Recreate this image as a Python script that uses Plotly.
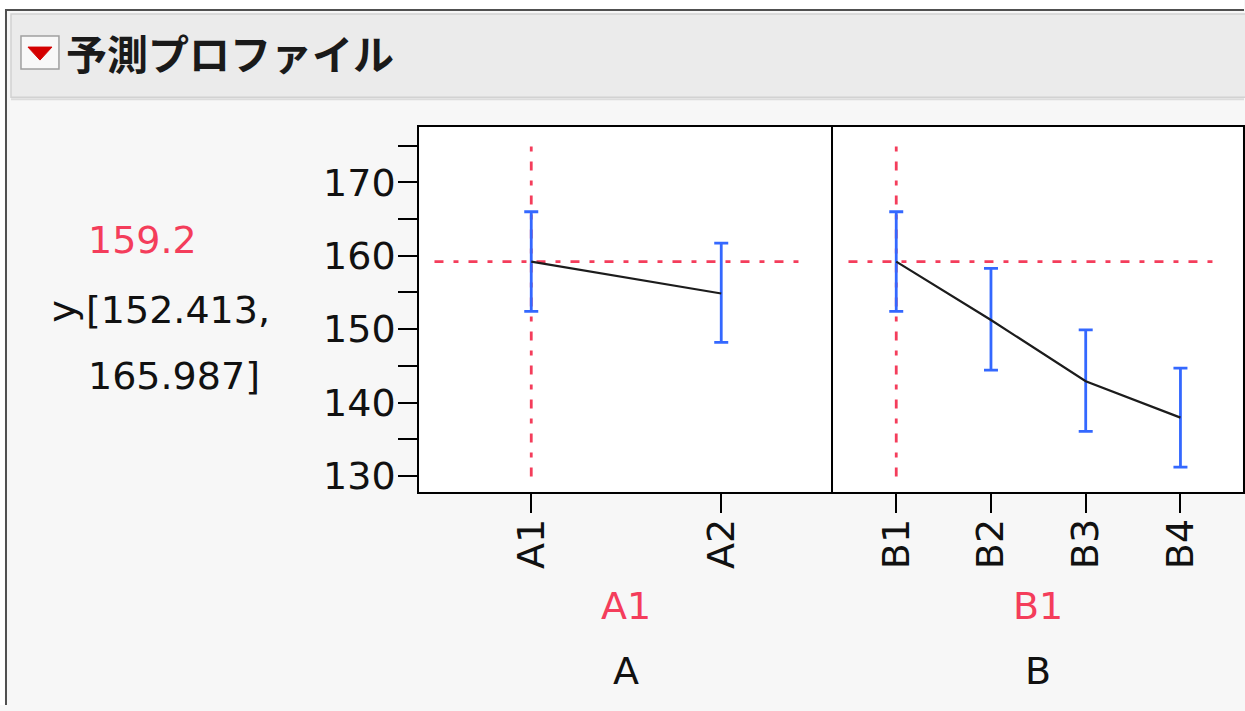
import plotly.graph_objects as go

W, H = 1245, 711

# ---- data ----
response = "y"
A_levels = ["A1", "A2"]
A_mean = [159.2, 154.85]
A_lower = [152.413, 148.2]
A_upper = [165.987, 161.7]

B_levels = ["B1", "B2", "B3", "B4"]
B_mean = [159.2, 151.25, 142.9, 137.95]
B_lower = [152.413, 144.42, 136.08, 131.21]
B_upper = [165.987, 158.27, 149.89, 144.69]

y_ticks = [130, 140, 150, 160, 170]
current_A = 0
current_B = 0
current_value = 159.2
current_ci = [152.413, 165.987]
title = "予測プロファイル"

# ---- style ----
RED = "#f43d5b"
BLUE = "#3468ff"
FONT = "DejaVu Sans"
JFONT = "Noto Sans CJK JP"
FS = 38
K = 1.01


def px(x):
    return x / W


def py(y):
    return 1 - (y * K) / H


fig = go.Figure()

for lv, mean, lo, up, xa, ya in [
    (A_levels, A_mean, A_lower, A_upper, "x", "y"),
    (B_levels, B_mean, B_lower, B_upper, "x2", "y2"),
]:
    fig.add_trace(go.Scatter(
        x=list(range(len(lv))), y=mean, mode="lines",
        line=dict(color="#1c1c1c", width=2.2),
        error_y=dict(type="data", symmetric=False,
                     array=[u - m for u, m in zip(up, mean)],
                     arrayminus=[m - l for m, l in zip(mean, lo)],
                     color=BLUE, thickness=2.8, width=7),
        xaxis=xa, yaxis=ya, showlegend=False, hoverinfo="skip"))

dash = "9px,10px,5px,10px"
shapes = []
# page frame (white margins outside the grey panel)
shapes.append(dict(type="rect", xref="paper", yref="paper", x0=0, x1=1, y0=py(10), y1=1,
                   fillcolor="white", line=dict(width=0), layer="below"))
shapes.append(dict(type="rect", xref="paper", yref="paper", x0=0, x1=px(6), y0=0, y1=1,
                   fillcolor="white", line=dict(width=0), layer="below"))
shapes.append(dict(type="rect", xref="paper", yref="paper", x0=px(11), x1=1.01, y0=py(97), y1=py(14),
                   fillcolor="#ebebeb", line=dict(color="#d2d2d2", width=1.5), layer="below"))
shapes.append(dict(type="line", xref="paper", yref="paper", x0=px(11), x1=1, y0=py(99), y1=py(99),
                   line=dict(color="#dcdcdc", width=2), layer="below"))
shapes.append(dict(type="line", xref="paper", yref="paper", x0=px(6), x1=px(6), y0=0, y1=py(9),
                   line=dict(color="#505050", width=2)))
shapes.append(dict(type="line", xref="paper", yref="paper", x0=px(5), x1=1, y0=py(10), y1=py(10),
                   line=dict(color="#505050", width=2)))
# red button
shapes.append(dict(type="rect", xref="paper", yref="paper", x0=px(21), x1=px(59), y0=py(69), y1=py(36),
                   fillcolor="#f8f8f8", line=dict(color="#a0a0a0", width=1.5)))
shapes.append(dict(type="path", xref="paper", yref="paper",
                   path=f"M {px(28)} {py(47)} L {px(52)} {py(47)} L {px(40)} {py(60)} Z",
                   fillcolor="#d40000", line=dict(color="#d40000", width=1)))

# crosshair dashed lines
for xa, ya, cur in [("x", "y", current_A), ("x2", "y2", current_B)]:
    shapes.append(dict(type="line", xref=f"{xa} domain", yref=ya, x0=0.037, x1=0.935,
                       y0=current_value, y1=current_value, layer="below",
                       line=dict(color=RED, width=2.8, dash=dash)))
    shapes.append(dict(type="line", xref=xa, yref=f"{ya} domain", x0=cur, x1=cur,
                       y0=0.042, y1=0.95, layer="below",
                       line=dict(color=RED, width=2.8, dash=dash)))

annotations = [
    dict(text=f"<b>{title}</b>", x=px(64), y=py(52), xref="paper", yref="paper",
         xanchor="left", yanchor="middle", showarrow=False,
         font=dict(family=JFONT, size=41, color="#1a1a1a")),
    dict(text=f"{current_value}", x=px(86), y=py(240), xref="paper", yref="paper",
         xanchor="left", yanchor="middle", showarrow=False,
         font=dict(family=FONT, size=FS, color=RED)),
    dict(text=response, x=px(63), y=py(310), xref="paper", yref="paper",
         xanchor="center", yanchor="middle", showarrow=False, textangle=-90,
         font=dict(family=FONT, size=FS, color="#111")),
    dict(text=f"[{current_ci[0]:.3f},", x=px(84), y=py(310), xref="paper", yref="paper",
         xanchor="left", yanchor="middle", showarrow=False,
         font=dict(family=FONT, size=FS, color="#111")),
    dict(text=f"{current_ci[1]:.3f}]", x=px(86), y=py(375), xref="paper", yref="paper",
         xanchor="left", yanchor="middle", showarrow=False,
         font=dict(family=FONT, size=FS, color="#111")),
    dict(text=A_levels[current_A], x=0.5, y=py(605), xref="x domain", yref="paper",
         xanchor="center", yanchor="middle", showarrow=False,
         font=dict(family=FONT, size=FS, color=RED)),
    dict(text="A", x=0.5, y=py(670), xref="x domain", yref="paper",
         xanchor="center", yanchor="middle", showarrow=False,
         font=dict(family=FONT, size=FS, color="#111")),
    dict(text=B_levels[current_B], x=0.5, y=py(605), xref="x2 domain", yref="paper",
         xanchor="center", yanchor="middle", showarrow=False,
         font=dict(family=FONT, size=FS, color=RED)),
    dict(text="B", x=0.5, y=py(670), xref="x2 domain", yref="paper",
         xanchor="center", yanchor="middle", showarrow=False,
         font=dict(family=FONT, size=FS, color="#111")),
]

axis_common = dict(showline=True, linecolor="black", linewidth=2,
                   showgrid=False, zeroline=False,
                   tickfont=dict(family=FONT, size=FS, color="#111"))
ydom = [py(491), py(127)]
yrange = [127.86, 177.5]

fig.update_layout(
    width=W, height=H, margin=dict(l=0, r=0, t=0, b=0),
    paper_bgcolor="#f7f7f7", plot_bgcolor="white",
    xaxis=dict(domain=[px(419.5), px(834)], range=[-0.59, 1.59], anchor="y", mirror=True,
               tickvals=list(range(len(A_levels))), ticktext=A_levels, tickangle=-90,
               ticklabelstandoff=-9,
               ticks="outside", ticklen=19, tickwidth=2, tickcolor="black", **axis_common),
    xaxis2=dict(domain=[px(834), px(1243.5)], range=[-0.664, 3.655], anchor="y2", mirror=True,
                tickvals=list(range(len(B_levels))), ticktext=B_levels, tickangle=-90,
                ticklabelstandoff=-9,
                ticks="outside", ticklen=19, tickwidth=2, tickcolor="black", **axis_common),
    yaxis=dict(domain=ydom, range=yrange, anchor="x", tickvals=y_ticks, mirror=False,
               ticks="outside", ticklen=19, tickwidth=2, tickcolor="black",
               ticklabelstandoff=-5,
               minor=dict(tickvals=[v + 5 for v in y_ticks], ticks="outside", ticklen=19,
                          tickwidth=2, tickcolor="black", showgrid=False),
               **axis_common),
    yaxis2=dict(domain=ydom, range=yrange, anchor="x2", showticklabels=False, ticks="",
                mirror=True, **axis_common),
    shapes=shapes, annotations=annotations,
)

fig.write_html("out.html", config={"displayModeBar": False},
               post_script="document.body.style.margin='0px';")
